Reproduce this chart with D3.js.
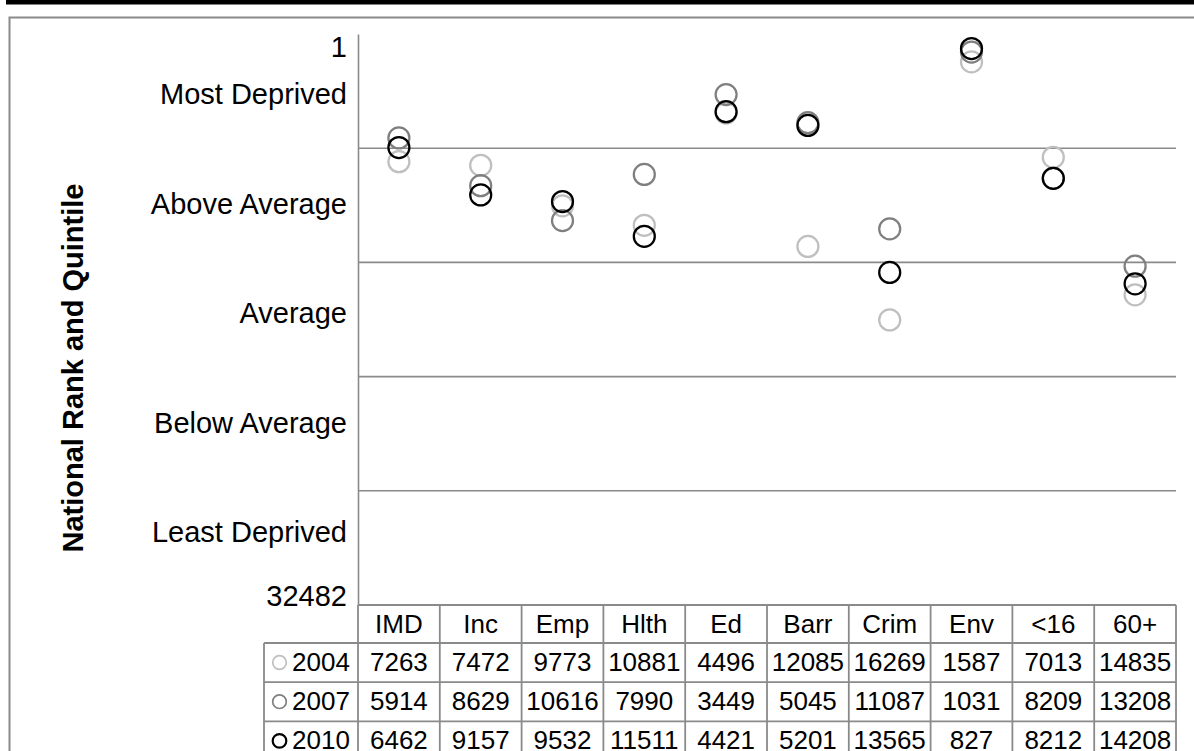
<!DOCTYPE html>
<html>
<head>
<meta charset="utf-8">
<script src="https://cdn.jsdelivr.net/npm/d3@7"></script>
<style>
  html, body { margin: 0; padding: 0; background: #fff; }
  svg { display: block; }
  text { font-family: "Liberation Sans", Arial, sans-serif; fill: #000; }
</style>
</head>
<body>
<svg id="chart" width="1194" height="751"></svg>
<script>
// ---------- data ----------
const categories = ["IMD", "Inc", "Emp", "Hlth", "Ed", "Barr", "Crim", "Env", "<16", "60+"];
const years = ["2004", "2007", "2010"];
const values2004 = [7263, 7472, 9773, 10881, 4496, 12085, 16269, 1587, 7013, 14835];
const values2007 = [5914, 8629, 10616, 7990, 3449, 5045, 11087, 1031, 8209, 13208];
const values2010 = [6462, 9157, 9532, 11511, 4421, 5201, 13565, 827, 8212, 14208];
const rankMin = 1;
const rankMax = 32482;
const quintileLabels = ["Most Deprived", "Above Average", "Average", "Below Average", "Least Deprived"];
const yTitle = "National Rank and Quintile";

// ---------- styles / layout ----------
const seriesColors = { "2004": "#bfbfbf", "2007": "#7f7f7f", "2010": "#000000" };
const gridColor = "#8a8a8a";
const plotLeft = 358, plotRight = 1176, plotTop = 34, plotBottom = 605;
const headerH = 38, rowH = 39.2, legendLeft = 264;

const series = [
  { year: years[0], values: values2004 },
  { year: years[1], values: values2007 },
  { year: years[2], values: values2010 }
];

const svg = d3.select("#chart");

// top black bar and outer frame
svg.append("rect").attr("x", 6).attr("y", 0).attr("width", 1194).attr("height", 4.5).attr("fill", "#000");
svg.append("rect").attr("x", 9.5).attr("y", 17.5).attr("width", 1300).attr("height", 800)
  .attr("fill", "none").attr("stroke", gridColor).attr("stroke-width", 2);

// scales
const x = d3.scaleBand().domain(categories).range([plotLeft, plotRight]).padding(0);
const y = d3.scaleLinear().domain([rankMin, rankMax]).range([plotTop, plotBottom]);

// quintile gridlines
const quintileBounds = d3.range(1, 5).map(k => rankMin + (rankMax - rankMin) * k / 5);
svg.append("g").selectAll("line").data(quintileBounds).join("line")
  .attr("x1", plotLeft).attr("x2", plotRight)
  .attr("y1", d => y(d)).attr("y2", d => y(d))
  .attr("stroke", gridColor).attr("stroke-width", 1.6);

// y axis line (domain only)
const yAxisG = svg.append("g").attr("transform", `translate(${plotLeft},0)`)
  .call(d3.axisLeft(y).tickValues([]).tickSizeOuter(0));
yAxisG.select(".domain").attr("stroke", gridColor).attr("stroke-width", 1.6);

// y labels
const labelX = 347;
svg.append("text").attr("x", labelX).attr("y", 57).attr("text-anchor", "end")
  .attr("font-size", 29).text(String(rankMin));
svg.append("text").attr("x", labelX).attr("y", 606).attr("text-anchor", "end")
  .attr("font-size", 29).text(String(rankMax));
const labelPos = d3.scalePoint().domain(quintileLabels).range([104, 542]);
svg.append("g").selectAll("text").data(quintileLabels).join("text")
  .attr("x", labelX).attr("y", d => labelPos(d)).attr("text-anchor", "end")
  .attr("font-size", 29).text(d => d);

// y title
svg.append("text").attr("transform", "translate(83,368) rotate(-90)")
  .attr("text-anchor", "middle").attr("font-size", 29).attr("font-weight", "bold")
  .text(yTitle);

// points
series.forEach(s => {
  svg.append("g").selectAll("circle").data(s.values).join("circle")
    .attr("cx", (d, i) => x(categories[i]) + x.bandwidth() / 2)
    .attr("cy", d => y(d))
    .attr("r", 10.5)
    .attr("fill", "none")
    .attr("stroke", seriesColors[s.year])
    .attr("stroke-width", 2.25);
});

// ---------- data table ----------
const tableG = svg.append("g");
const rowTop = i => plotBottom + headerH + i * rowH;
const tableBottom = rowTop(series.length);

// horizontal lines
tableG.append("line").attr("x1", plotLeft).attr("x2", plotRight).attr("y1", plotBottom).attr("y2", plotBottom);
d3.range(series.length + 1).forEach(i => {
  tableG.append("line").attr("x1", legendLeft).attr("x2", plotRight).attr("y1", rowTop(i)).attr("y2", rowTop(i));
});
// vertical lines
const colEdges = categories.map(c => x(c)).concat([plotRight]);
tableG.selectAll("line.v").data(colEdges).join("line").attr("class", "v")
  .attr("x1", d => d).attr("x2", d => d).attr("y1", plotBottom).attr("y2", tableBottom);
tableG.append("line").attr("x1", legendLeft).attr("x2", legendLeft).attr("y1", rowTop(0)).attr("y2", tableBottom);
tableG.selectAll("line").attr("stroke", gridColor).attr("stroke-width", 1.8);

// header text
tableG.selectAll("text.h").data(categories).join("text").attr("class", "h")
  .attr("x", d => x(d) + x.bandwidth() / 2).attr("y", plotBottom + 28)
  .attr("text-anchor", "middle").attr("font-size", 26).text(d => d);

// rows
series.forEach((s, r) => {
  const top = rowTop(r);
  tableG.append("circle").attr("cx", 279.5).attr("cy", top + 19.5).attr("r", 6.8)
    .attr("fill", "none").attr("stroke", seriesColors[s.year])
    .attr("stroke-width", s.year === "2010" ? 2.2 : 1.7);
  tableG.append("text").attr("x", 292).attr("y", top + 27.5).attr("font-size", 26).text(s.year);
  tableG.append("g").selectAll("text").data(s.values).join("text")
    .attr("x", (d, i) => x(categories[i]) + x.bandwidth() / 2).attr("y", top + 27.5)
    .attr("text-anchor", "middle").attr("font-size", 26).text(d => d);
});
</script>
</body>
</html>
